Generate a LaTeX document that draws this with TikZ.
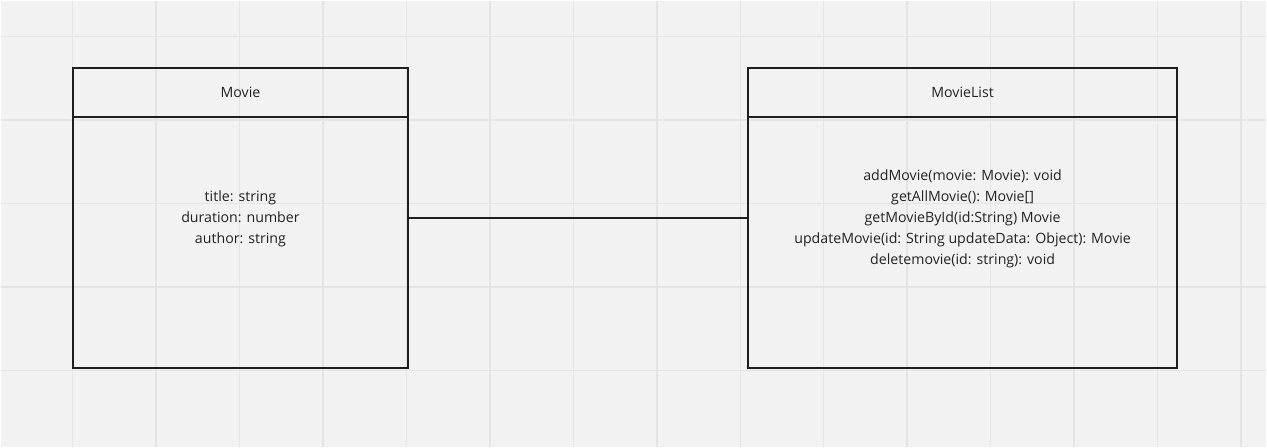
\documentclass[tikz,border=0pt]{standalone}
\usepackage{fontspec}
\setmainfont{Open Sans}
\definecolor{boardbg}{HTML}{F2F2F2}
\definecolor{boardgrid}{HTML}{E4E4E4}
\definecolor{inkline}{HTML}{1E1E1E}
\definecolor{inktext}{HTML}{222222}
\begin{document}
\begin{tikzpicture}[
    x=1pt, y=-1pt,
    every node/.style={align=center, text=inktext, font=\fontsize{14.2}{21}\selectfont},
    classbox/.style={rectangle, draw=inkline, line width=2pt, inner sep=0pt},
    members/.style={rectangle, inner sep=0pt},
    link/.style={draw=inkline, line width=1.6pt}
]
    % Board
    \fill[boardbg] (0,0) rectangle (1267,447);
    \foreach \gx in {0,...,14} \draw[boardgrid, line width=1.5pt] (72+83.55*\gx,0) -- (72+83.55*\gx,447);
    \foreach \gy in {0,...,4} \draw[boardgrid, line width=1.5pt] (0,36+83.5*\gy) -- (1267,36+83.5*\gy);
    \useasboundingbox (0,0) rectangle (1267,447);

    % Class boxes
    \node[classbox, minimum width=336pt, minimum height=301pt] (movie) at (240,217.5) {};
    \node[classbox, minimum width=430pt, minimum height=301pt] (movielist) at (963,217.5) {};

    % Header dividers
    \draw[inkline, line width=2pt] ([yshift=-50pt]movie.north west) -- ([yshift=-50pt]movie.north east);
    \draw[inkline, line width=2pt] ([yshift=-50pt]movielist.north west) -- ([yshift=-50pt]movielist.north east);

    % Class names
    \node (movie_name) at ([yshift=-25.5pt]movie.north) {Movie};
    \node (movielist_name) at ([yshift=-25.5pt]movielist.north) {MovieList};

    % Members
    \node[members] (movie_attrs) at (240,218.5) {title: string\\duration: number\\author: string};
    \node[members] (movielist_ops) at (963,218.5) {addMovie(movie: Movie): void\\getAllMovie(): Movie[]\\getMovieById(id:String) Movie\\updateMovie(id: String updateData: Object): Movie\\deletemovie(id: string): void};

    % Association
    \draw[link] (movie) -- (movielist);
\end{tikzpicture}
\end{document}
